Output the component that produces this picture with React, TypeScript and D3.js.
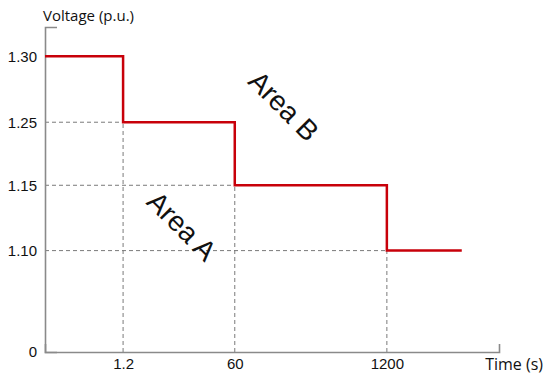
import React, { useRef, useEffect } from "react";
import * as d3 from "d3";

// step profile: voltage held until next breakpoint
const stepTimes = [0, 1.2, 60, 1200, 2400];
const stepVoltages = [1.3, 1.25, 1.15, 1.1, 1.1];

const xTickValues = [1.2, 60, 1200];
const xTickLabels = ["1.2", "60", "1200"];
const yTickValues = [0, 1.1, 1.15, 1.25, 1.3];
const yTickLabels = ["0", "1.10", "1.15", "1.25", "1.30"];

// schematic (not to scale) placement of the breakpoints, as fractions of the axis
const xBreaks = [0, 1.2, 60, 1200, 2400, 2900];
const xFrac = [0, 0.172, 0.418, 0.753, 0.918, 1];
const yBreaks = [0, 1.1, 1.15, 1.25, 1.3, 1.4];
const yFrac = [0, 0.312, 0.513, 0.707, 0.91, 1];

const width = 550;
const height = 382;
const margin = { top: 27, right: 51, bottom: 30, left: 45 };

const App = () => {
  const svgRef = useRef<SVGSVGElement>(null);

  useEffect(() => {
    const svg = d3.select(svgRef.current);
    svg.selectAll("*").remove();

    const x0 = margin.left;
    const x1 = width - margin.right;
    const y0 = height - margin.bottom;
    const y1 = margin.top;

    const xScale = d3
      .scaleLinear()
      .domain(xBreaks)
      .range(xFrac.map((f) => x0 + f * (x1 - x0)));
    const yScale = d3
      .scaleLinear()
      .domain(yBreaks)
      .range(yFrac.map((f) => y0 - f * (y0 - y1)));

    const data = stepTimes.map((t, i) => ({ t, v: stepVoltages[i] }));

    // dashed guide lines
    const guides = svg
      .append("g")
      .attr("stroke", "#7a7a7a")
      .attr("stroke-width", 1)
      .attr("stroke-dasharray", "4,3")
      .attr("fill", "none");
    xTickValues.forEach((t) => {
      const vIdx = stepTimes.indexOf(t);
      guides
        .append("line")
        .attr("x1", xScale(t))
        .attr("x2", xScale(t))
        .attr("y1", yScale(0))
        .attr("y2", yScale(stepVoltages[vIdx]));
    });
    stepVoltages.slice(1, 4).forEach((v, i) => {
      guides
        .append("line")
        .attr("x1", xScale(0))
        .attr("x2", xScale(stepTimes[i + 1]))
        .attr("y1", yScale(v))
        .attr("y2", yScale(v));
    });

    // axes
    const yAxis = d3
      .axisLeft(yScale)
      .tickValues(yTickValues)
      .tickFormat((d, i) => yTickLabels[i])
      .tickSize(0)
      .tickSizeOuter(-12)
      .tickPadding(8);
    const gy = svg.append("g").attr("transform", `translate(${x0},0)`).call(yAxis);

    const xAxis = d3
      .axisBottom(xScale)
      .tickValues(xTickValues)
      .tickFormat((d, i) => xTickLabels[i])
      .tickSize(0)
      .tickSizeOuter(-8)
      .tickPadding(6);
    const gx = svg.append("g").attr("transform", `translate(0,${y0})`).call(xAxis);

    [gx, gy].forEach((g) => {
      g.select(".domain").attr("stroke", "#8a8a8a").attr("stroke-width", 1.6);
      g.selectAll("text")
        .attr("font-family", "'Liberation Sans', Arial, sans-serif")
        .attr("font-size", 15)
        .attr("fill", "#111");
    });

    // step line
    const line = d3
      .line<{ t: number; v: number }>()
      .x((d) => xScale(d.t))
      .y((d) => yScale(d.v))
      .curve(d3.curveStepAfter);
    svg
      .append("path")
      .datum(data)
      .attr("d", line)
      .attr("fill", "none")
      .attr("stroke", "#c8000a")
      .attr("stroke-width", 2.5);

    // axis titles
    svg
      .append("text")
      .attr("x", x0 - 2)
      .attr("y", 21)
      .attr("font-family", "'Open Sans', sans-serif")
      .attr("font-size", 15)
      .attr("fill", "#111")
      .text("Voltage (p.u.)");
    svg
      .append("text")
      .attr("x", width - 7)
      .attr("y", 370)
      .attr("text-anchor", "end")
      .attr("font-family", "'Open Sans', sans-serif")
      .attr("font-size", 16)
      .attr("fill", "#111")
      .text("Time (s)");

    // area labels
    const areaLabel = (txt, cx, cy) =>
      svg
        .append("text")
        .attr("transform", `translate(${cx},${cy}) rotate(45)`)
        .attr("text-anchor", "middle")
        .attr("dy", "0.35em")
        .attr("font-family", "'Liberation Sans', Arial, sans-serif")
        .attr("font-size", 28)
        .attr("fill", "#111")
        .text(txt);
    areaLabel("Area B", 284, 106);
    areaLabel("Area A", 182, 226);
  }, []);

  return (
    <svg
      ref={svgRef}
      width={width}
      height={height}
      style={{ position: "absolute", left: 0, top: 0, background: "#fff" }}
    />
  );
};

export default App;
